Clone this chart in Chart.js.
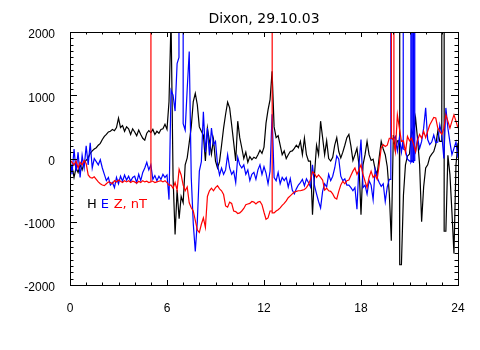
<!DOCTYPE html>
<html>
<head>
<meta charset="utf-8">
<title>Dixon, 29.10.03</title>
<script src="https://cdn.jsdelivr.net/npm/chart.js@4/dist/chart.umd.min.js"></script>
<style>
	html, body { margin: 0; padding: 0; background: #fff; }
</style>
</head>
<body>
<canvas id="chart" width="480" height="350"></canvas>
<script>
// magnetometer components, nT, one sample every 1/8 hour (UT 0..24)
const H = [
	-250, -120, -300, -150, -220, -100, -180, -60,
	-30, 10, 80, 120, 150, 170, 210, 240,
	300, 350, 380, 420, 430, 460, 440, 490,
	640, 490, 520, 430, 500, 470, 380, 470,
	420, 360, 450, 380, 320, 290, 400, 440,
	410, 460, 380, 430, 400, 460, 470, 540,
	460, 900, 2200, -300, -1200, -500, -950, -600,
	-700, -100, 10, 250, 500, 900, 1030, 850,
	500, 430, 370, -40, 480, 280, 70, 300,
	-40, -150, -50, 210, 480, 700, 890, 800,
	530, 250, -40, 590, 330, 170, 0, 100,
	-60, 30, -20, 20, 0, 60, 130, 80,
	180, 560, 770, 930, 1380, 500, 330, 360,
	210, 60, 120, 0, 60, 110, 120, 160,
	210, 170, 270, 60, 320, 60, -40, -40,
	-890, -250, 210, 60, 590, 330, 60, 280,
	0, -40, 20, 210, 330, 110, 10, 100,
	210, 330, 380, 200, -30, 60, 160, -100,
	-890, -100, 60, 270, 60, -30, -10, -170,
	-250, 20, 270, 150, 60, -130, -550, -1300,
	370, 130, 280, 280, -1680, -580, -100, 40,
	70, 450, 360, 640, 300, -100, -1000, -450,
	-150, -100, 20, 70, 110, 220, 430, 270,
	20000, 20000, -1150, 50, -250, -850, -1500, -100,
	250
];
const E = [
	20, -250, 150, -200, 100, -300, 50, -150,
	200, -100, 250, -150, 0, -50, -100, -20,
	-150, -250, -350, -300, -420, -380, -460, -300,
	-400, -280, -360, -260, -340, -280, -360, -300,
	-280, -380, -250, -350, -220, -150, -60, -180,
	-100, -330, -270, -350, -280, -330, -250, -300,
	-260, -650, 1080, 1000, 750, 1500, 20000, 20000,
	550, 450, 1100, 1690, -300, -1030, -1470, -1000,
	-200, -50, 740, 100, 480, 50, 480, 220,
	270, -100, -260, -150, -250, -180, 60, -150,
	-250, -200, -380, 20, -100, -150, -100, -250,
	-180, -350, -250, -220, -330, -180, -100, -250,
	-130, -230, -400, -200, 700, -300, -350, -220,
	-400, -300, -350, -300, -450, -320, -500, -560,
	-480, -420, -380, -330, -430, -320, -380, -450,
	-100, -430, -560, -680, -780, -520, -400, -450,
	-250, -350, -280, -150, 40, -10, -280, -350,
	-320, -420, -420, -460, -510, -460, -800, -100,
	300, -460, -420, -560, -350, -420, -650, -170,
	-300, -380, -440, -400, -680, -450, -330, 320,
	300, 350, 120, 330, 100, 150, 130, -10,
	-40, -40, -40, 100, 320, 160, 270, 480,
	800, 300, 220, 260, 370, 250, 260, 530,
	370, 0, 800, 480, 260, 60, 160, 260,
	10
];
const Z = [
	-20, -60, -100, -40, -150, -60, -100, -30,
	-80, -260, -300, -310, -290, -330, -370, -400,
	-420, -430, -400, -370, -380, -400, -350, -370,
	-340, -360, -380, -350, -370, -350, -380, -360,
	-370, -390, -360, -380, -350, -370, -360, -380,
	-370, -360, -380, -370, -360, -350, -370, -350,
	-380, -420, -420, -470, -380, -500, -170, -260,
	-420, -510, -450, -700, -780, -830, -980, -1130,
	-1170, -1040, -940, -1090, -600, -510, -470, -510,
	-460, -430, -480, -510, -570, -750, -770, -690,
	-710, -830, -840, -870, -860, -830, -790, -730,
	-720, -710, -680, -690, -720, -690, -680, -730,
	-850, -960, -940, -830, -830, -860, -830, -810,
	-780, -740, -710, -670, -620, -590, -560, -530,
	-520, -510, -510, -500, -490, -460, -410, -330,
	-210, -240, -300, -260, -300, -340, -500, -470,
	-510, -520, -560, -620, -640, -520, -420, -360,
	-400, -350, -340, -270, -200, -150, -250, -180,
	-100, -250, -360, -460, -300, -200, -300, -260,
	-330, -100, 170, 220, 190, 210, 320, 320,
	300, 110, 690, 480, 270, 280, 100, 350,
	280, 320, 230, 110, 290, 380, 320, 430,
	330, 430, 530, 590, 650, 640, 480, 430,
	380, 480, 690, 590, 480, 590, 690, 590,
	480
];

// short bursts between the regular samples: [hour, nT]
// (20000 = off the top of the plot)
const hExtra = [
	[20.39, 280], [20.394, 20000], [20.4, -1680],
	[22.99, 270], [22.994, 20000], [23.14, 20000], [23.144, -1150],
];
const eExtra = [
	[6.74, 1600], [6.745, 20000], [6.995, 20000],
	[19.84, -330], [19.844, 20000], [19.848, 320],
	[20.6, 300], [20.604, 20000], [20.608, 200],
	[21.08, -40], [21.084, 20000], [21.088, -60],
	[21.16, -50], [21.164, 20000], [21.168, -30],
	[21.24, -60], [21.244, 20000], [21.248, -40],
	[21.32, -30], [21.324, 20000], [21.328, 60],
];
const zExtra = [
	[5.004, 20000], [5.008, -360],
	[12.504, 20000], [12.508, -860],
	[19.879, 20000], [19.883, 330],
	[20.034, 20000], [20.038, 250],
];

const hourTicks = [0, 6, 12, 18, 24];
const nTTicks = [-2000, -1000, 0, 1000, 2000];

const step = 0.125;
const toPoints = (vals, extra) => vals
	.map((v, i) => ({ x: i * step, y: v }))
	.concat(extra.map(([x, y]) => ({ x, y })))
	.sort((a, b) => a.x - b.x);

// IDL-style box: inward tick marks on all four sides, plus the component key
const frameTicks = {
	id: 'frameTicks',
	afterDraw(chart) {
		const { ctx, chartArea: a, scales: { x, y } } = chart;
		ctx.save();
		ctx.strokeStyle = '#000';
		ctx.lineWidth = 1;
		ctx.beginPath();
		for (let h = 0; h <= 24; h++) {
			const px = Math.round(x.getPixelForValue(h)) + 0.5;
			const len = h % 6 === 0 ? 5 : 2.5;
			ctx.moveTo(px, a.bottom);
			ctx.lineTo(px, a.bottom - len);
			ctx.moveTo(px, a.top);
			ctx.lineTo(px, a.top + len);
		}
		for (let v = -2000; v <= 2000; v += 100) {
			const py = Math.round(y.getPixelForValue(v)) + 0.5;
			const len = v % 1000 === 0 ? 7 : 3.5;
			ctx.moveTo(a.left, py);
			ctx.lineTo(a.left + len, py);
			ctx.moveTo(a.right, py);
			ctx.lineTo(a.right - len, py);
		}
		ctx.stroke();
		ctx.strokeRect(Math.round(a.left) + 0.5, Math.round(a.top) + 0.5,
			Math.round(a.right - a.left), Math.round(a.bottom - a.top));

		ctx.font = '13px "DejaVu Sans", sans-serif';
		ctx.textAlign = 'left';
		ctx.textBaseline = 'middle';
		const ky = y.getPixelForValue(-730);
		ctx.fillStyle = '#000';
		ctx.fillText('H', x.getPixelForValue(1.05), ky);
		ctx.fillStyle = '#0000ff';
		ctx.fillText('E', x.getPixelForValue(1.9), ky);
		ctx.fillStyle = '#ff0000';
		ctx.fillText('Z, nT', x.getPixelForValue(2.7), ky);
		ctx.restore();
	}
};

Chart.defaults.font.family = '"Liberation Sans", sans-serif';
Chart.defaults.color = '#000';

new Chart(document.getElementById('chart').getContext('2d'), {
	type: 'line',
	data: {
		datasets: [
			{ label: 'H', data: toPoints(H, hExtra), borderColor: '#000000', order: 3 },
			{ label: 'E', data: toPoints(E, eExtra), borderColor: '#0000ff', order: 2 },
			{ label: 'Z', data: toPoints(Z, zExtra), borderColor: '#ff0000', order: 1 },
		],
	},
	options: {
		responsive: false,
		animation: false,
		events: [],
		layout: { padding: { left: 0, right: 22, top: 0, bottom: 0 } },
		elements: {
			line: { borderWidth: 1.2, tension: 0 },
			point: { radius: 0 },
		},
		plugins: {
			legend: { display: false },
			tooltip: { enabled: false },
			title: {
				display: true,
				text: 'Dixon, 29.10.03',
				fullSize: false,
				color: '#000',
				font: { family: '"DejaVu Sans", sans-serif', size: 14, weight: 'normal' },
				padding: { top: 11, bottom: 4.2 },
			},
		},
		scales: {
			x: {
				type: 'linear',
				min: 0,
				max: 24,
				afterBuildTicks: s => { s.ticks = hourTicks.map(v => ({ value: v })); },
				afterFit: s => { s.height = 65; },
				grid: { display: false },
				border: { display: false },
				ticks: { padding: 8, font: { size: 12 }, maxRotation: 0, autoSkip: false, callback: v => String(v) },
			},
			y: {
				type: 'linear',
				min: -2000,
				max: 2000,
				afterBuildTicks: s => { s.ticks = nTTicks.map(v => ({ value: v })); },
				afterFit: s => { s.width = 70; },
				grid: { display: false },
				border: { display: false },
				ticks: { padding: 7, labelOffset: 3, font: { size: 12 }, autoSkip: false, callback: v => String(v) },
			},
		},
	},
	plugins: [frameTicks],
});
</script>
</body>
</html>
